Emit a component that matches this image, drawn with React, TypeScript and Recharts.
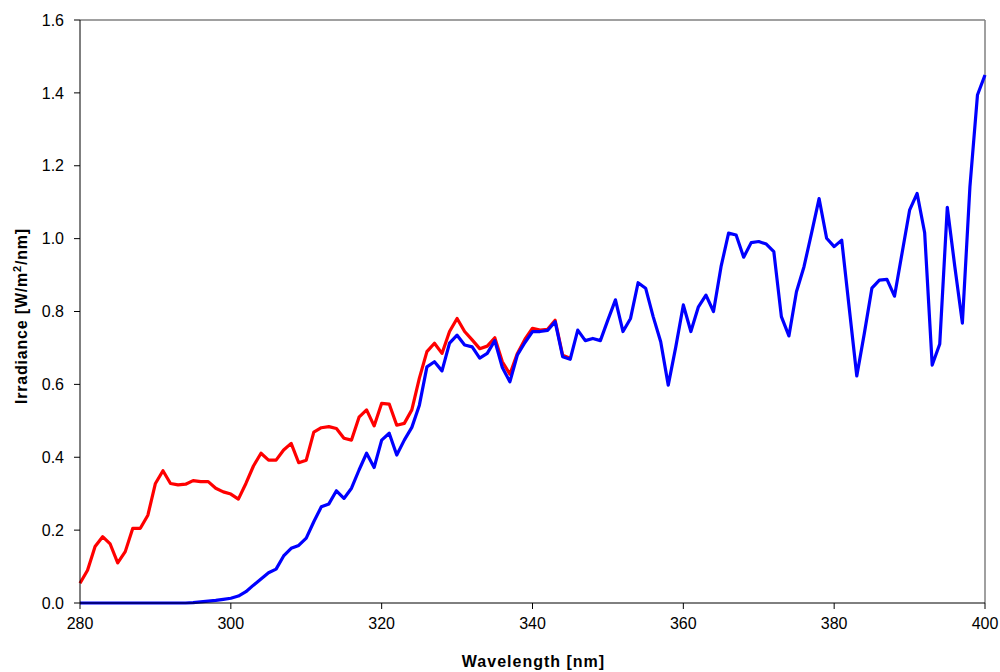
import React from "react";
import { LineChart, Line, XAxis, YAxis, ReferenceLine } from "recharts";

const START_NM = 280;
const xTicks = [280, 300, 320, 340, 360, 380, 400];
const yTicks = [0, 0.2, 0.4, 0.6, 0.8, 1.0, 1.2, 1.4, 1.6];

// Red series: 280..345 nm
const redValues = [
  0.054, 0.09, 0.155, 0.182, 0.162, 0.11, 0.141, 0.205, 0.205, 0.241,
  0.328, 0.363, 0.328, 0.324, 0.326, 0.336, 0.333, 0.333, 0.315, 0.305,
  0.299, 0.285, 0.328, 0.376, 0.411, 0.392, 0.392, 0.42, 0.438, 0.385,
  0.392, 0.469, 0.481, 0.484, 0.479, 0.452, 0.447, 0.51, 0.53, 0.486,
  0.548, 0.546, 0.488, 0.493, 0.53, 0.617, 0.69, 0.713, 0.685, 0.745,
  0.781, 0.745, 0.722, 0.698, 0.705, 0.728, 0.662, 0.628, 0.685, 0.724,
  0.754, 0.749, 0.751, 0.776, 0.68, 0.672,
];

// Blue series: 280..400 nm
const blueValues = [
  0, 0, 0, 0, 0, 0, 0, 0, 0, 0,
  0, 0, 0, 0, 0, 0.001, 0.003, 0.005, 0.007, 0.01,
  0.013, 0.019, 0.031, 0.049, 0.066, 0.083, 0.093, 0.129, 0.15, 0.158,
  0.178, 0.223, 0.264, 0.272, 0.308, 0.287, 0.315, 0.365, 0.411, 0.372,
  0.447, 0.466, 0.406, 0.447, 0.482, 0.543, 0.648, 0.662, 0.637, 0.713,
  0.735, 0.708, 0.703, 0.672, 0.685, 0.72, 0.646, 0.607, 0.681, 0.715,
  0.745, 0.745, 0.748, 0.772, 0.676, 0.669, 0.749, 0.72, 0.726, 0.72,
  0.777, 0.832, 0.745, 0.781, 0.879, 0.864, 0.786, 0.717, 0.598, 0.703,
  0.818, 0.745, 0.813, 0.845, 0.8, 0.923, 1.015, 1.01, 0.949, 0.989,
  0.992, 0.985, 0.964, 0.786, 0.733, 0.854, 0.923, 1.015, 1.11, 1.001,
  0.978, 0.996, 0.809, 0.623, 0.74, 0.864, 0.886, 0.888, 0.842, 0.96,
  1.078, 1.124, 1.016, 0.653, 0.711, 1.086, 0.923, 0.768, 1.142, 1.394,
  1.449,
];

const redData = redValues.map((v, i) => ({ nm: START_NM + i, v }));
const blueData = blueValues.map((v, i) => ({ nm: START_NM + i, v }));

const FONT = "'Liberation Sans', Arial, sans-serif";

const XTitle = (props: any) => {
  const vb = props.viewBox || {};
  const cx = vb.x + vb.width / 2;
  return (
    <text x={cx + 1} y={667} textAnchor="middle" fontFamily={FONT} fontSize={16} fontWeight="bold" letterSpacing={1} fill="#000">
      Wavelength [nm]
    </text>
  );
};

const YTitle = () => {
  return (
    <text
      x={0}
      y={0}
      transform="translate(27,316) rotate(-90)"
      textAnchor="middle"
      fontFamily={FONT}
      fontSize={16}
      fontWeight="bold"
      letterSpacing={0.8}
      fill="#000"
    >
      Irradiance [W/m
      <tspan fontSize={11} dy={-6}>2</tspan>
      <tspan dy={6}>/nm]</tspan>
    </text>
  );
};

export default function App() {
  return (
    <div style={{ position: "absolute", left: 0, top: 0, width: 1000, height: 672, background: "#fff" }}>
      <LineChart
        width={1000}
        height={672}
        margin={{ top: 20, right: 15, bottom: 39, left: 0 }}
      >
        <XAxis
          type="number"
          dataKey="nm"
          domain={[280, 400]}
          ticks={xTicks}
          allowDuplicatedCategory={false}
          height={30}
          tickSize={6}
          tickMargin={9}
          stroke="#000"
          tick={{ fill: "#000", fontSize: 16, fontFamily: FONT }}
          label={{ content: XTitle }}
        />
        <YAxis
          type="number"
          domain={[0, 1.6]}
          ticks={yTicks}
          width={80}
          tickSize={6}
          tickMargin={10}
          stroke="#000"
          tickFormatter={(v: number) => v.toFixed(1)}
          tick={{ fill: "#000", fontSize: 16, fontFamily: FONT }}
          label={{ content: YTitle }}
        />
        <ReferenceLine y={1.6} stroke="#808080" strokeWidth={1.5} />
        <ReferenceLine x={400} stroke="#808080" strokeWidth={1.5} />
        <Line
          data={redData}
          dataKey="v"
          type="linear"
          stroke="#ff0000"
          strokeWidth={3.2}
          dot={false}
          isAnimationActive={false}
          strokeLinejoin="round"
        />
        <Line
          data={blueData}
          dataKey="v"
          type="linear"
          stroke="#0000ff"
          strokeWidth={3.2}
          dot={false}
          isAnimationActive={false}
          strokeLinejoin="round"
        />
      </LineChart>
    </div>
  );
}
